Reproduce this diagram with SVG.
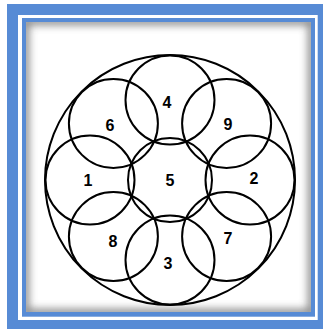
<svg xmlns="http://www.w3.org/2000/svg" width="323" height="329" viewBox="0 0 323 329">
<defs>
<style>
.c{fill:none;stroke:#000;stroke-width:2}
.t{font-family:"Liberation Sans",Arial,sans-serif;font-size:16px;font-weight:bold;fill:#000;text-anchor:middle}
.blue{fill:#578bd5}
</style>
<clipPath id="inner"><rect x="26" y="22" width="285" height="290"/></clipPath>
<filter id="blur" x="-20%" y="-20%" width="140%" height="140%"><feGaussianBlur stdDeviation="4"/></filter>
</defs>
<g id="frame">
<rect x="0" y="0" width="323" height="329" fill="#fff"/>
<rect class="blue" x="7" y="4" width="316" height="325"/>
<rect x="18" y="15" width="299.7" height="305" fill="#fff"/>
<rect class="blue" x="22" y="18" width="293" height="298.7"/>
<rect x="26" y="22" width="285" height="290" fill="#fff"/>
<g clip-path="url(#inner)">
<rect x="25" y="21" width="287" height="292" fill="none" stroke="#555" stroke-width="7" filter="url(#blur)" opacity="0.8"/>
</g>
</g>
<g id="outer"><circle class="c" cx="170" cy="180" r="125"/></g>
<g id="n5"><circle class="c" cx="170" cy="180" r="42"/><text class="t" x="170" y="186">5</text></g>
<g id="n4"><circle class="c" cx="170" cy="100" r="44.5"/><text class="t" x="167" y="108">4</text></g>
<g id="n9"><circle class="c" cx="226.6" cy="123.4" r="44.5"/><text class="t" x="228" y="130">9</text></g>
<g id="n2"><circle class="c" cx="250" cy="180" r="44.5"/><text class="t" x="254" y="184">2</text></g>
<g id="n7"><circle class="c" cx="226.6" cy="236.6" r="44.5"/><text class="t" x="228" y="244">7</text></g>
<g id="n3"><circle class="c" cx="170" cy="260" r="44.5"/><text class="t" x="168" y="269">3</text></g>
<g id="n8"><circle class="c" cx="113.4" cy="236.6" r="44.5"/><text class="t" x="113" y="247">8</text></g>
<g id="n1"><circle class="c" cx="90" cy="180" r="44.5"/><text class="t" x="88" y="186">1</text></g>
<g id="n6"><circle class="c" cx="113.4" cy="123.4" r="44.5"/><text class="t" x="110" y="131">6</text></g>
<g id="connectors"/>
</svg>
